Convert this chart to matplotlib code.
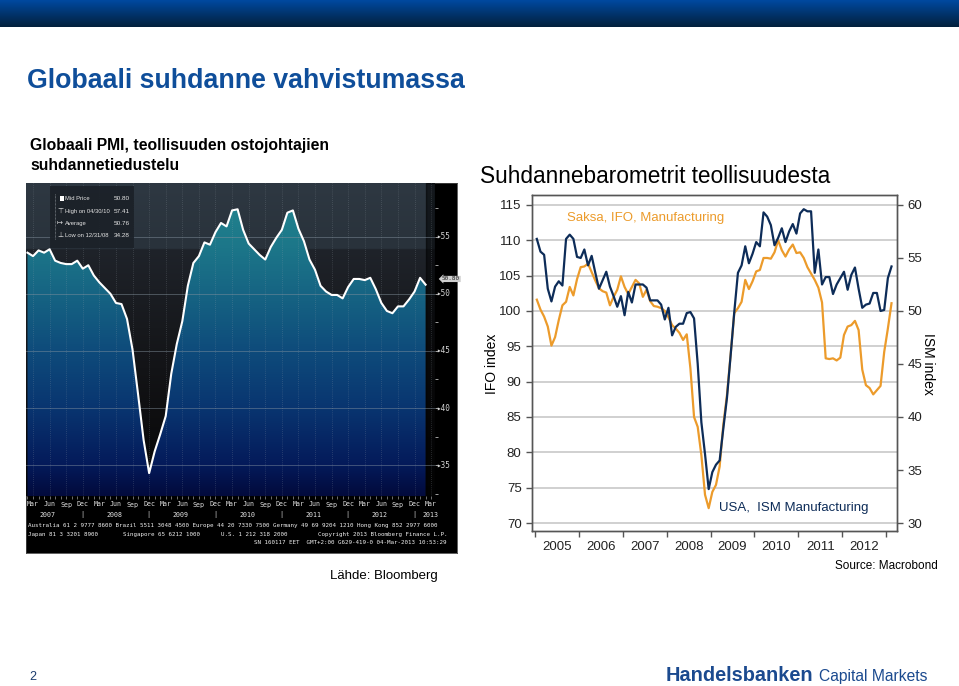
"""Dia: Globaali suhdanne vahvistumassa — Bloomberg PMI + Ifo/ISM barometrit.

Tallentaa: out.png
"""
import numpy as np
import matplotlib
matplotlib.use("Agg")
import matplotlib.pyplot as plt  # noqa: E402
from matplotlib.colors import to_rgb  # noqa: E402
from matplotlib.patches import Polygon, Rectangle  # noqa: E402
from matplotlib.transforms import blended_transform_factory as blend  # noqa: E402

plt.rcParams["font.family"] = ["Liberation Sans", "DejaVu Sans"]
W, H = 959, 686

# --- vasen: Global PMI (Bloomberg-ruutu), kuukausittain 2/2007 .. 2/2013
PMI_FIRST_MONTH = 1          # kuukausi-indeksi, 0 = tammikuu 2007
PMI = [53.6, 53.3, 53.8, 53.6, 53.9, 52.9, 52.7, 52.6, 52.6, 52.9, 52.2,
       52.5, 51.6, 51.0, 50.5, 50.0, 49.2, 49.1, 47.8, 45.1, 41.2, 37.2, 34.3,
       36.2, 37.7, 39.3, 43.0, 45.6, 47.6, 50.7, 52.7, 53.3, 54.5, 54.3, 55.4,
       56.2, 55.9, 57.3, 57.4, 55.6, 54.4, 53.9, 53.4, 53.0, 54.1, 54.9, 55.6,
       57.1, 57.3, 55.7, 54.6, 53.0, 52.1, 50.7, 50.2, 49.9, 49.9, 49.6, 50.6,
       51.3, 51.3, 51.2, 51.4, 50.4, 49.2, 48.5, 48.3, 48.9, 48.9, 49.5, 50.2,
       51.4, 50.8]
PMI_STATS = [("Mid Price", "50.80"), ("High on 04/30/10", "57.41"),
             ("Average", "50.76"), ("Low on 12/31/08", "34.28")]
PMI_LAST = "50.80"
PMI_YTICKS = [35, 40, 45, 50, 55]
QUARTERS = ["Mar", "Jun", "Sep", "Dec"]
BBG_YEARS = ["2007", "2008", "2009", "2010", "2011", "2012", "2013"]
BBG_ROW1 = ("Australia 61 2 9777 8600 Brazil 5511 3048 4500 Europe 44 20 7330 7500 "
            "Germany 49 69 9204 1210 Hong Kong 852 2977 6000")
BBG_ROW2 = ["Japan 81 3 3201 8900", "Singapore 65 6212 1000", "U.S. 1 212 318 2000"]
BBG_COPY = "Copyright 2013 Bloomberg Finance L.P."
BBG_ROW3 = "SN 160117 EET  GMT+2:00 G629-419-0 04-Mar-2013 10:53:29"

# --- oikea: Saksa Ifo (vasen akseli) ja USA ISM (oikea akseli), 1/2005 .. 2/2013
IFO = [101.6, 100.2, 99.2, 97.8, 95.1, 96.3, 98.7, 100.8, 101.3, 103.4, 102.2, 104.5,
       106.2, 106.3, 106.7, 105.5, 104.3, 103.2, 102.8, 102.6, 100.8, 102.0, 103.0, 104.9,
       103.4, 102.4, 103.4, 104.4, 103.9, 102.0, 103.0, 101.4, 100.7, 100.6, 100.4, 100.0,
       99.1, 98.0, 97.5, 96.9, 95.9, 96.7, 91.9, 85.0, 83.6, 79.6, 74.0, 72.1,
       74.4, 75.4, 78.0, 83.9, 88.1, 93.8, 99.7, 100.4, 101.3, 104.4, 103.1, 104.2,
       105.6, 105.8, 107.5, 107.5, 107.4, 108.3, 110.0, 108.6, 107.7, 108.7, 109.4, 108.2,
       108.3, 107.5, 106.2, 105.3, 104.4, 103.3, 101.2, 93.3, 93.2, 93.3, 93.0, 93.4,
       96.6, 97.8, 98.0, 98.6, 97.3, 91.7, 89.5, 89.1, 88.2, 88.8, 89.4, 94.2,
       97.5, 101.1]
ISM = [56.8, 55.6, 55.3, 52.1, 50.9, 52.3, 52.8, 52.4, 56.8, 57.2, 56.8, 55.1,
       55.0, 55.8, 54.3, 55.2, 53.6, 52.1, 52.9, 53.7, 52.3, 51.4, 50.4, 51.4,
       49.6, 51.8, 50.8, 52.5, 52.5, 52.5, 52.2, 51.0, 51.0, 51.0, 50.6, 49.2,
       50.3, 47.7, 48.5, 48.8, 48.8, 49.8, 49.9, 49.3, 45.0, 39.5, 36.5, 33.2,
       34.8, 35.5, 35.9, 38.9, 41.8, 45.8, 49.9, 53.6, 54.3, 56.1, 54.5, 55.4,
       56.5, 56.1, 59.3, 58.9, 58.1, 56.2, 56.9, 57.8, 56.5, 57.5, 58.2, 57.3,
       59.2, 59.6, 59.4, 59.4, 53.6, 55.8, 52.5, 53.2, 53.2, 51.6, 52.5, 53.1,
       53.7, 52.0, 53.4, 54.1, 52.1, 50.3, 50.6, 50.7, 51.7, 51.7, 50.0, 50.1,
       53.1, 54.2]
YEARS = [2005, 2006, 2007, 2008, 2009, 2010, 2011, 2012]
IFO_TICKS = [70, 75, 80, 85, 90, 95, 100, 105, 110, 115]
ISM_TICKS = [30, 35, 40, 45, 50, 55, 60]

BLUE_T = "#0f4e9a"
ORANGE, NAVY = "#ec9b2b", "#0d2c58"
MONO = "DejaVu Sans Mono"

fig = plt.figure(figsize=(W / 100, H / 100), dpi=100)
fig.patch.set_facecolor("white")


def px_axes(x0, y0, x1, y1):
    return fig.add_axes([x0 / W, 1 - y1 / H, (x1 - x0) / W, (y1 - y0) / H])


def ramp(stops, vals):
    v = [s[0] for s in stops]
    c = np.array([to_rgb(s[1]) for s in stops])
    return np.stack([np.interp(vals, v, c[:, k]) for k in range(3)], axis=-1)


def fit(t, width):
    r = fig.canvas.get_renderer()
    t.set_fontsize(t.get_fontsize() * width / t.get_window_extent(r).width)
    return t.get_fontsize()


# ---------------- tausta, otsikot
bg = px_axes(0, 0, W, H)
g = np.linspace(0, 1, 64)[:, None, None]
banner = np.array(to_rgb("#0049a0")) * (1 - g) + np.array(to_rgb("#03203c")) * g
bg.imshow(banner, extent=[0, W, 27, 0], aspect="auto", interpolation="bilinear")
bg.set_xlim(0, W)
bg.set_ylim(H, 0)
bg.axis("off")

t = bg.text(27, 88, "Globaali suhdanne vahvistumassa", color=BLUE_T,
            fontsize=20, fontweight="bold", va="baseline")
fit(t, 438)
t = bg.text(30, 150, "Globaali PMI, teollisuuden ostojohtajien", color="black",
            fontsize=11.5, fontweight="bold", va="baseline")
fit(t, 300)
bg.text(30, 170, "suhdannetiedustelu", color="black", fontsize=t.get_fontsize(),
        fontweight="bold", va="baseline")
t = bg.text(480, 183, "Suhdannebarometrit teollisuudesta", fontsize=15, va="baseline")
fit(t, 352)
bg.text(330, 576, "Lähde: Bloomberg", fontsize=9.5, va="center")
bg.text(938, 566, "Source: Macrobond", fontsize=8.5, va="center", ha="right")
bg.text(492, 364, "IFO index", fontsize=10, rotation=90, ha="center", va="center")
bg.text(928, 364, "ISM index", fontsize=10, rotation=270, ha="center", va="center")
bg.text(29, 677, "2", fontsize=9, color="#1c3d6e", va="center")
t = bg.text(666, 681, "Handelsbanken", fontsize=15, fontweight="bold",
            color="#1b4a8f", va="baseline")
fit(t, 147)
t = bg.text(819, 681, "Capital Markets", fontsize=12, color="#1b4a8f", va="baseline")
fit(t, 109)

# ---------------- vasen: Bloomberg
bb = px_axes(26, 183, 457, 553)
bb.set_facecolor("black")
bb.set_xticks([])
bb.set_yticks([])
for s in bb.spines.values():
    s.set_color("#444")
    s.set_linewidth(0.6)

pa = px_axes(26, 183, 435, 496)
XL, YL = (0.73, 74.7), (32.3, 59.7)
vals = np.linspace(YL[1], YL[0], 400)
back = ramp([(32.3, "#060606"), (40, "#0f0f11"), (47, "#17191d"), (53.9, "#1f232a"),
             (54.0, "#29323b"), (59.7, "#2e3842")], vals)
fillc = ramp([(32.3, "#020a3c"), (35, "#041a5a"), (40, "#093570"), (45, "#0e4b7b"),
              (50, "#166483"), (54, "#1c7689"), (59.7, "#24888f")], vals)
pa.imshow(back[:, None, :], extent=[*XL, *YL], aspect="auto", zorder=0)
im = pa.imshow(fillc[:, None, :], extent=[*XL, *YL], aspect="auto", zorder=1)
months = np.arange(PMI_FIRST_MONTH, PMI_FIRST_MONTH + len(PMI))
verts = [(months[0], YL[0])] + list(zip(months, PMI)) + [(months[-1], YL[0])]
clip = Polygon(verts, closed=True, fc="none", ec="none")
pa.add_patch(clip)
im.set_clip_path(clip)
pa.axvspan(months[-1], XL[1], color="black", alpha=0.55, zorder=2)
for v in PMI_YTICKS:
    pa.axhline(v, color="#8593a0", lw=0.6, alpha=0.55, zorder=3)
qpos = np.arange(2, 75, 3)
for q in qpos:
    pa.axvline(q, color="#a0aab2", lw=0.5, ls=(0, (1, 2)), alpha=0.4, zorder=3)
pa.plot(months, PMI, color="white", lw=1.5, zorder=4)
pa.set_xlim(*XL)
pa.set_ylim(*YL)
for s in pa.spines.values():
    s.set_visible(False)
pa.set_xticks(np.arange(1, 75))
pa.tick_params(axis="x", length=2, width=0.5, color="#9a9a9a", labelbottom=False)
pa.yaxis.tick_right()
pa.set_yticks(np.arange(32.5, 59, 2.5))
pa.tick_params(axis="y", length=2.5, width=0.6, color="#bbbbbb", labelright=False)

ov = px_axes(26, 183, 457, 553)
ov.set_xlim(26, 457)
ov.set_ylim(553, 183)
ov.axis("off")
ty = blend(ov.transData, pa.transData)
tx = blend(pa.transData, ov.transData)
for v in PMI_YTICKS:
    ov.text(436, v, f"▸{v}", transform=ty, fontsize=5.5, color="#d5d5d5",
            va="center", family=MONO)
ov.text(442, PMI[-1] + 0.5, PMI_LAST, transform=ty, fontsize=4.3, color="#222",
        va="center", family=MONO,
        bbox=dict(boxstyle="larrow,pad=0.1", fc="#cfcfcf", ec="none"))

# tilastoruutu vasemmassa yläkulmassa
ov.add_patch(Rectangle((50, 186), 84, 62, fc="#1b2128", ec="none", alpha=0.92))
ov.add_patch(Rectangle((59.5, 195.5), 4, 5, fc="white", ec="none"))
ov.plot([55, 55], [194, 239], color="#9aa0a6", lw=0.5, ls=(0, (1, 1)))
lab_t, val_t = [], []
for j, (lab, val) in enumerate(PMI_STATS):
    yy = 199 + 12.2 * j
    lab_t.append(ov.text(65, yy, lab, fontsize=5, color="#e4e4e4", va="center"))
    val_t.append(ov.text(130, yy, val, fontsize=5, color="#e4e4e4", va="center",
                         ha="right"))
fs_lab = fit(lab_t[1], 46)
fs_val = fit(val_t[1], 16)
for a in lab_t:
    a.set_fontsize(fs_lab)
for a in val_t:
    a.set_fontsize(fs_val)
for j, mk in enumerate(["⊤", "↦", "⊥"]):
    ov.text(60, 211 + 12.2 * j, mk, fontsize=5, color="#e4e4e4", va="center",
            ha="center", family="DejaVu Sans")

# aika-akseli ja alaosan tekstirivit
for j, q in enumerate(qpos):
    ov.text(q, 504.5, QUARTERS[j % 4], transform=tx, fontsize=4.8, color="#e2e2e2",
            ha="center", va="center", family=MONO)
ypos = [4.7 + 12 * k for k in range(6)] + [73.8]
for lab, p in zip(BBG_YEARS, ypos):
    ov.text(p, 515, lab, transform=tx, fontsize=4.8, color="#e2e2e2",
            ha="center", va="center", family=MONO)
for k in range(6):
    ov.text(10.9 + 12 * k, 515, "|", transform=tx, fontsize=5, color="#cfcfcf",
            ha="center", va="center", family=MONO)
ov.text(28, 526, BBG_ROW1, fontsize=4.25, color="#eeeeee", va="center", family=MONO)
for x0, s in zip([28, 123, 221], BBG_ROW2):
    ov.text(x0, 534.5, s, fontsize=4.25, color="#eeeeee", va="center", family=MONO)
ov.text(447, 534.5, BBG_COPY, fontsize=4.25, color="#eeeeee", va="center",
        ha="right", family=MONO)
ov.text(447, 543, BBG_ROW3, fontsize=4.25, color="#eeeeee", va="center",
        ha="right", family=MONO)

# ---------------- oikea: Ifo ja ISM
ax = px_axes(532, 195, 897, 531)
x = 2005 + (np.arange(len(IFO)) + 0.5) / 12
ax.set_xlim(2004.932, 2013.25)
ylo, yhi = 68.87, 116.41
ax.set_ylim(ylo, yhi)
ax.set_yticks(IFO_TICKS)
ax.grid(axis="y", color="#d0d0d0", lw=1.4)
ax.set_axisbelow(True)
ax.plot(x, IFO, color=ORANGE, lw=1.6, zorder=3)
ax.set_xticks(range(2005, 2014))
ax.set_xticklabels([])
ax.set_xticks([y + 0.5 for y in YEARS], minor=True)
ax.set_xticklabels([str(y) for y in YEARS], minor=True)
ax.tick_params(axis="x", which="major", length=4, width=1, color="#555")
ax.tick_params(axis="x", which="minor", length=0, labelsize=9.5, pad=7, labelcolor="#222")
ax.tick_params(axis="y", length=4, width=1, color="#555", labelsize=9.5, labelcolor="#222")
ax.text(2005.73, 113.2, "Saksa, IFO, Manufacturing", color=ORANGE, fontsize=9.5,
        va="center")
ax.text(2009.19, 72.1, "USA,  ISM Manufacturing", color=NAVY, fontsize=9.5,
        va="center")

ax2 = ax.twinx()
ax2.set_ylim(30 + (ylo - 70) / 1.5, 30 + (yhi - 70) / 1.5)
ax2.set_yticks(ISM_TICKS)
ax2.plot(x, ISM, color=NAVY, lw=1.6, zorder=4)
ax2.tick_params(axis="y", length=4, width=1, color="#555", labelsize=9.5, labelcolor="#222")
for a in (ax, ax2):
    for s in a.spines.values():
        s.set_color("#555")
        s.set_linewidth(1.0)

fig.savefig("out.png", dpi=100, facecolor="white")
